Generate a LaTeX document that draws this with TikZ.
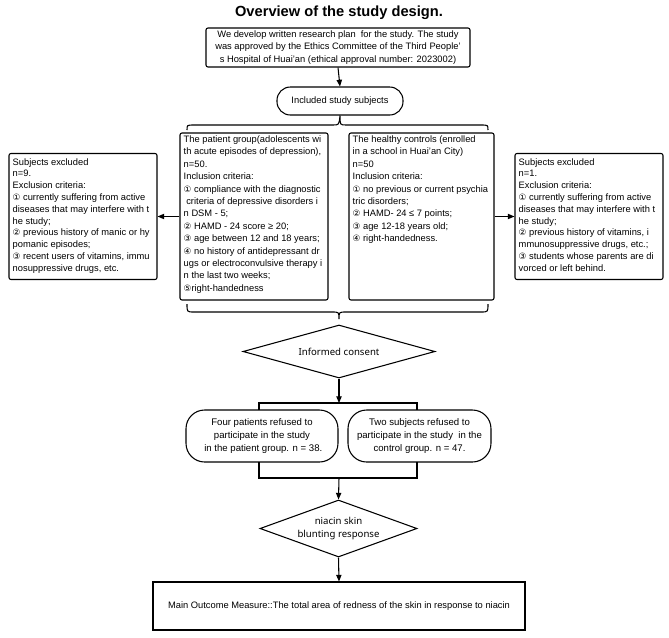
\documentclass[tikz,border=0pt]{standalone}
\usepackage{fontspec}
\setmainfont{Liberation Sans}
\newfontfamily\yh{Noto Sans}
\newfontfamily\sym{DejaVu Sans}
\usetikzlibrary{arrows.meta,shapes.geometric,calc}
\newcommand\cn[1]{{\sym\fontsize{6.5}{9}\selectfont #1}}
\begin{document}
\begin{tikzpicture}[x=0.75pt,y=-0.75pt,
  every node/.style={font=\fontsize{7}{9.3}\selectfont, inner sep=0pt},
  bx/.style={draw, line width=0.8pt, rounded corners=1.5pt},
  rbx/.style={draw, line width=0.8pt, rounded corners=14pt},
  dia/.style={draw, line width=0.8pt, diamond, font=\yh\fontsize{7.2}{9.6}\selectfont, align=center},
  txt/.style={anchor=north west, align=left},
  etxt/.style={anchor=north west, align=left, font=\fontsize{7}{8.85}\selectfont},
  arr/.style={line width=0.8pt, -{Triangle[length=5pt,width=4pt]}},
  ln/.style={line width=0.8pt}]
\useasboundingbox (0,0) rectangle (669,637);

\node[font=\bfseries\fontsize{11}{13}\selectfont] (title) at (339,13) {Overview of the study design.};

\node[bx, minimum width=198pt, minimum height=29.25pt, align=center] (top) at (338,47.5)
  {We develop written research plan\ \ for the study. The study\\
   was approved by the Ethics Committee of the Third People'\\
   s Hospital of Huai'an (ethical approval number: 2023002)};

\node[draw, line width=0.8pt, rounded corners=10pt, minimum width=94.5pt, minimum height=21pt] (incl) at (340,101) {Included study subjects};

\node[bx, minimum width=111pt, minimum height=125.25pt] (pat) at (254,216.5) {};
\node[bx, minimum width=108.75pt, minimum height=125.25pt] (ctl) at (421.5,216.5) {};
\node[bx, minimum width=111pt, minimum height=94.5pt] (exL) at (83,216.5) {};
\node[bx, minimum width=111pt, minimum height=94.5pt] (exR) at (589,216.5) {};

\node[txt] (patT) at ($(pat.north west)+(4,3)$)
  {The patient group(adolescents wi\\
   th acute episodes of depression),\\
   n=50.\\
   Inclusion criteria:\\
   \cn{①} compliance with the diagnostic\\
   \ criteria of depressive disorders i\\
   n DSM - 5;\\
   \cn{②} HAMD - 24 score ≥ 20;\\
   \cn{③} age between 12 and 18 years;\\
   \cn{④} no history of antidepressant dr\\
   ugs or electroconvulsive therapy i\\
   n the last two weeks;\\
   \cn{⑤}right-handedness};

\node[txt] (ctlT) at ($(ctl.north west)+(4,3)$)
  {The healthy controls (enrolled\\
   in a school in Huai'an City)\\
   n=50\\
   Inclusion criteria:\\
   \cn{①} no previous or current psychia\\
   tric disorders;\\
   \cn{②} HAMD- 24 ≤ 7 points;\\
   \cn{③} age 12-18 years old;\\
   \cn{④} right-handedness.};

\node[etxt] (exLT) at ($(exL.north west)+(4,5)$)
  {Subjects excluded\\
   n=9.\\
   Exclusion criteria:\\
   \cn{①} currently suffering from active\\
   diseases that may interfere with t\\
   he study;\\
   \cn{②} previous history of manic or hy\\
   pomanic episodes;\\
   \cn{③} recent users of vitamins, immu\\
   nosuppressive drugs, etc.};

\node[etxt] (exRT) at ($(exR.north west)+(4,5)$)
  {Subjects excluded\\
   n=1.\\
   Exclusion criteria:\\
   \cn{①} currently suffering from active\\
   diseases that may interfere with t\\
   he study;\\
   \cn{②} previous history of vitamins, i\\
   mmunosuppressive drugs, etc.;\\
   \cn{③} students whose parents are di\\
   vorced or left behind.};

\node[dia, shape aspect=3.62, minimum width=144pt, minimum height=39.75pt] (d1) at (339,351.5) {Informed consent};

\node[rbx, minimum width=114pt, minimum height=39pt, align=center, font=\fontsize{7.2}{9.6}\selectfont] (refL) at (262,436)
  {Four patients refused to\\ participate in the study\\ \ in the patient group. n = 38.};
\node[rbx, minimum width=107.25pt, minimum height=39pt, align=center, font=\fontsize{7.2}{9.6}\selectfont] (refR) at (419.5,436)
  {Two subjects refused to\\ participate in the study\ \ in the\\ control group. n = 47.};

\node[dia, shape aspect=2.75, minimum width=117.75pt, minimum height=42.75pt] (d2) at (338.5,528.5) {niacin skin\\ blunting response};

\node[draw, line width=0.8pt, minimum width=279pt, minimum height=36pt] (main) at (339,606)
  {Main Outcome Measure::The total area of redness of the skin in response to niacin};

% connectors
\draw[arr] (top.south) -- (incl.north);
\draw[arr] (pat.west) -- (exL.east);
\draw[arr] (ctl.east) -- (exR.west);

% top brace
\draw[ln] (187,130) .. controls (187,125) .. (194,125) -- (333,125) .. controls (339,125) .. (incl.south)
          .. controls (340,125) .. (346,125) -- (481,125) .. controls (488,125) .. (488,130);
% bottom brace
\coordinate (btip) at (339,319);
\draw[ln] (187,304) .. controls (187,312) .. (194,312) -- (332,312) .. controls (339,312) .. (btip)
          .. controls (339,312) .. (346,312) -- (481,312) .. controls (488,312) .. (488,304);

% brackets
\coordinate (bk1) at (339,403);
\coordinate (bk2) at (339,478);
\draw[arr] (d1.south) -- (bk1);
\draw[ln] (259,410) -- (259,403) -- (417,403) -- (417,410);
\draw[ln] (259,462) -- (259,478) -- (417,478) -- (417,462);
\draw[arr] (bk2) -- (d2.north);
\draw[arr] (d2.south) -- (main.north);
\end{tikzpicture}
\end{document}
